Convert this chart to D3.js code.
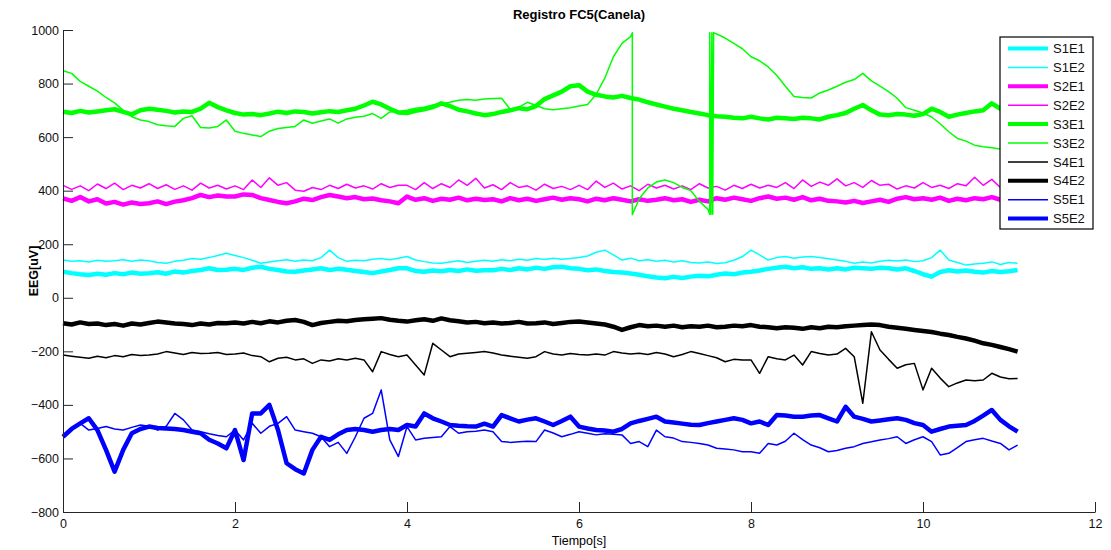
<!DOCTYPE html>
<html>
<head>
<meta charset="utf-8">
<script src="https://cdn.jsdelivr.net/npm/d3@7"></script>
<style>
  body { margin: 0; background: #fff; }
  svg { display: block; font-family: "Liberation Sans", Arial, sans-serif; }
</style>
</head>
<body>
<svg width="1111" height="550"></svg>
<script>
// sample grid (s) shared by every series except S3E2
const sampleStep = 0.1;

const s1e1 = [97,92,88,85,90,86,92,88,94,90, 92,95,90,98,94,100,104,110,104,105, 108,104,112,116,108,104,98,97,102,106,
  110,104,108,105,100,96,92,98,104,110, 110,100,97,102,99,104,100,106,101,103, 103,108,104,110,106,112,108,114,116,110,
  108,103,106,100,96,94,91,86,80,76, 73,78,74,79,82,80,86,91,88,94, 97,102,108,112,116,110,114,108,110,106,
  110,106,112,110,108,112,110,106,110,100, 88,79,96,103,98,102,97,94,100,96,99,104];
const s1e2 = [141,136,138,134,140,136,138,142,136,141, 138,132,129,136,140,147,144,150,158,166, 158,150,140,129,134,138,142,136,141,138,
  150,178,150,136,140,138,144,147,142,148, 154,141,135,130,129,134,138,132,136,140, 136,142,138,144,140,147,143,148,144,147,
  150,156,170,178,160,141,148,138,142,136, 140,134,138,132,130,134,128,131,140,154, 178,160,141,150,154,148,152,154,150,146,
  141,136,129,134,130,136,140,137,141,135, 138,150,178,141,132,122,126,129,134,124,132,129];
const s2e1 = [371,362,376,360,368,352,358,348,356,350, 353,360,350,359,364,372,384,376,382,378, 378,386,384,372,365,358,353,360,370,365,
  376,384,378,372,376,368,371,364,360,353, 378,366,372,362,370,366,374,364,370,365, 368,360,372,364,370,362,368,374,366,372,
  368,360,370,364,372,366,360,368,362,366, 372,364,368,358,366,360,372,366,374,368, 362,372,378,370,374,366,376,364,370,362,
  360,356,362,354,360,366,358,370,376,368, 372,366,374,362,370,364,372,368,376,366,372,370];
const s2e2 = [420,405,418,400,425,408,428,404,420,410, 426,408,422,405,418,402,428,410,420,406, 418,404,440,412,448,420,430,402,398,412,
  404,420,408,424,410,418,406,426,412,420, 420,404,430,408,426,412,440,420,446,410, 422,404,430,412,418,402,424,408,416,404,
  420,404,436,412,428,406,418,400,424,410, 420,406,418,404,426,410,416,402,420,408, 424,410,420,412,430,408,440,416,432,420,
  444,418,430,412,438,420,424,406,418,410, 430,412,420,408,426,418,450,420,442,412,430,416];
const s3e1 = [695,690,698,692,696,700,704,694,685,700, 706,702,698,692,696,694,706,728,712,700, 690,684,686,682,688,695,690,696,694,688,
  693,697,694,700,706,718,732,722,706,692, 690,698,704,712,726,716,702,696,688,682, 686,694,700,708,704,716,742,756,770,790,
  794,770,758,752,748,754,746,740,730,722, 714,706,700,694,688,682,678,676,672,670, 676,670,666,672,670,668,672,670,666,676,
  682,690,706,720,700,684,682,686,684,680, 686,706,694,676,684,690,696,700,726,706,698,692];
// S3E2 has its own times because of the vertical jumps
const s3e2Time = [0,0.1,0.2,0.3,0.4,0.5,0.6,0.7,0.8,0.9, 1,1.1,1.2,1.3,1.4,1.5,1.6,1.7,1.8,1.9, 2,2.1,2.2,2.3,2.4,2.5,2.6,2.7,2.8,2.9,
  3,3.1,3.2,3.3,3.4,3.5,3.6,3.7,3.8,3.9, 4,4.1,4.2,4.3,4.4,4.5,4.6,4.7,4.8,4.9, 5,5.1,5.2,5.3,5.4,5.5,5.6,5.7,5.8,5.9,
  6,6.1,6.2,6.3,6.4,6.5,6.6, 6.62,6.62, 6.7,6.8,6.9,7,7.1,7.2,7.3,7.4,7.5, 7.52,7.52,7.535,7.545,7.555,7.565,
  7.6,7.7,7.8,7.9,8,8.1,8.2,8.3,8.4,8.5, 8.6,8.7,8.8,8.9,9,9.1,9.2,9.3,9.4,9.5, 9.6,9.7,9.8,9.9,10,10.1,10.2,10.3,10.4,10.5,
  10.6,10.7,10.8,10.9,11,11.1];
const s3e2 = [848,838,808,790,772,748,728,700,676,664, 658,646,642,640,670,680,636,634,640,664, 622,614,608,602,622,632,636,640,664,652,
  660,668,652,668,674,678,688,670,694,696, 700,708,712,720,724,730,738,740,738,742, 744,745,704,712,730,718,706,702,706,710,
  716,722,760,820,900,950,975, 990,310, 370,410,432,440,430,412,400,360,330, 312,990,312,990,312,990,
  985,970,950,930,900,885,862,830,790,752, 748,746,765,776,790,805,815,838,810,790, 770,745,710,700,690,675,650,620,595,585,
  570,564,560,556,562,560];
const s4e1 = [-214,-218,-222,-226,-218,-224,-216,-220,-212,-216, -214,-210,-201,-206,-212,-204,-208,-207,-204,-212,
  -210,-206,-216,-220,-239,-226,-222,-232,-228,-245, -232,-236,-228,-232,-226,-232,-276,-201,-212,-220,
  -214,-251,-288,-170,-195,-220,-210,-207,-204,-201, -206,-214,-218,-222,-226,-220,-201,-210,-214,-208,
  -212,-214,-210,-214,-201,-206,-210,-207,-212,-204, -210,-220,-212,-201,-208,-216,-224,-239,-230,-232,
  -232,-282,-220,-228,-232,-214,-251,-201,-208,-214, -210,-189,-220,-394,-127,-195,-230,-263,-250,-245,
  -344,-263,-300,-332,-318,-307,-310,-307,-282,-296,-302,-301];
const s4e2 = [-95,-100,-92,-98,-96,-102,-98,-104,-96,-100, -94,-89,-92,-96,-98,-102,-96,-100,-94,-95,
  -92,-96,-90,-95,-88,-92,-86,-83,-90,-102, -94,-90,-86,-88,-83,-80,-78,-76,-82,-86,
  -89,-84,-80,-86,-77,-84,-88,-92,-90,-95, -92,-96,-94,-90,-96,-95,-92,-98,-94,-90,
  -89,-92,-96,-100,-108,-120,-110,-102,-106,-104, -108,-104,-110,-106,-108,-104,-110,-108,-104,-106,
  -102,-108,-110,-114,-110,-112,-116,-110,-114,-108, -110,-106,-104,-102,-100,-102,-108,-112,-116,-120,
  -124,-128,-134,-139,-146,-152,-160,-170,-176,-184,-192,-201];
const s5e1 = [-519,-490,-469,-494,-488,-481,-490,-494,-484,-475, -480,-494,-480,-432,-456,-494,-500,-508,-514,-519,
  -494,-531,-469,-506,-480,-469,-444,-494,-500,-506, -519,-556,-540,-581,-519,-450,-432,-344,-531,-593,
  -481,-531,-525,-522,-519,-481,-506,-500,-498,-494, -500,-537,-540,-538,-536,-537,-494,-505,-519,-510,
  -500,-506,-512,-508,-510,-512,-544,-537,-556,-494, -519,-524,-537,-540,-544,-550,-562,-565,-568,-575,
  -575,-581,-544,-550,-536,-506,-530,-550,-560,-575, -570,-562,-556,-544,-538,-531,-526,-519,-544,-530,
  -519,-537,-587,-581,-560,-537,-530,-525,-535,-544,-568,-550];
const s5e2 = [-519,-490,-469,-450,-494,-568,-649,-568,-506,-490, -481,-486,-488,-490,-494,-500,-506,-530,-544,-562,
  -494,-606,-432,-432,-400,-494,-618,-640,-656,-568, -519,-531,-510,-494,-490,-494,-500,-494,-490,-494,
  -475,-481,-432,-450,-462,-475,-478,-480,-481,-470, -481,-438,-450,-462,-455,-450,-462,-475,-460,-444,
  -481,-488,-494,-496,-500,-490,-469,-460,-452,-444, -462,-466,-470,-474,-475,-468,-462,-456,-450,-456,
  -469,-462,-475,-438,-440,-444,-444,-440,-438,-450, -462,-407,-444,-452,-462,-458,-454,-450,-456,-468,
  -475,-500,-490,-481,-478,-475,-460,-440,-419,-456,-480,-500];

const xTicks = [0, 2, 4, 6, 8, 10, 12];
const yTicks = [-800, -600, -400, -200, 0, 200, 400, 600, 800, 1000];

const series = [
  {name: 'S1E1', values: s1e1, color: '#00ffff', thick: true},
  {name: 'S1E2', values: s1e2, color: '#00ffff', thick: false},
  {name: 'S2E1', values: s2e1, color: '#ff00ff', thick: true},
  {name: 'S2E2', values: s2e2, color: '#ff00ff', thick: false},
  {name: 'S3E1', values: s3e1, color: '#00ff00', thick: true},
  {name: 'S3E2', values: s3e2, color: '#00ff00', thick: false, time: s3e2Time},
  {name: 'S4E1', values: s4e1, color: '#000000', thick: false},
  {name: 'S4E2', values: s4e2, color: '#000000', thick: true},
  {name: 'S5E1', values: s5e1, color: '#0000ff', thick: false},
  {name: 'S5E2', values: s5e2, color: '#0000ff', thick: true}
];

const svg = d3.select('svg');
const plot = {left: 63, right: 1095, top: 30, bottom: 512};

const x = d3.scaleLinear().domain([0, 12]).range([plot.left, plot.right]);
const y = d3.scaleLinear().domain([-800, 1000]).range([plot.bottom, plot.top]);

// data lines
const lines_layer = svg.append('g');
series.forEach(function(s) {
  const line = d3.line()
    .x(function(d, i) { return x(s.time ? s.time[i] : i * sampleStep); })
    .y(function(d) { return y(d); });
  lines_layer.append('path')
    .datum(s.values)
    .attr('fill', 'none')
    .attr('stroke', s.color)
    .attr('stroke-width', s.thick ? 4.5 : 1.5)
    .attr('stroke-linejoin', 'round')
    .attr('d', line);
});

// axes, MATLAB style: ticks pointing inward, no box
const xAxis = svg.append('g')
  .attr('transform', 'translate(0,' + plot.bottom + ')')
  .call(d3.axisBottom(x).tickValues(xTicks).tickFormat(d3.format('d'))
    .tickSizeInner(-10).tickSizeOuter(0).tickPadding(7));
const yAxis = svg.append('g')
  .attr('transform', 'translate(' + plot.left + ',0)')
  .call(d3.axisLeft(y).tickValues(yTicks).tickFormat(d3.format('d'))
    .tickSizeInner(-10).tickSizeOuter(0).tickPadding(4));
[xAxis, yAxis].forEach(function(a) {
  a.select('.domain').attr('stroke', '#262626');
  a.selectAll('.tick line').attr('stroke', '#262626');
  a.selectAll('.tick text')
    .attr('fill', '#111')
    .style('font-family', '"Liberation Sans", Arial, sans-serif')
    .style('font-size', '12.5px');
});

svg.append('text')
  .attr('x', (plot.left + plot.right) / 2)
  .attr('y', 19)
  .attr('text-anchor', 'middle')
  .style('font-size', '13px')
  .style('font-weight', 'bold')
  .text('Registro FC5(Canela)');

svg.append('text')
  .attr('x', (plot.left + plot.right) / 2)
  .attr('y', 545)
  .attr('text-anchor', 'middle')
  .style('font-size', '12.5px')
  .text('Tiempo[s]');

svg.append('text')
  .attr('transform', 'translate(38,' + (plot.top + plot.bottom) / 2 + ') rotate(-90)')
  .attr('text-anchor', 'middle')
  .style('font-size', '12.5px')
  .style('font-weight', 'bold')
  .text('EEG[uV]');

// legend
const legend = svg.append('g').attr('transform', 'translate(1000,37)');
legend.append('rect')
  .attr('width', 93)
  .attr('height', 192)
  .attr('fill', '#fff')
  .attr('stroke', '#000')
  .attr('stroke-width', 1.2);
series.forEach(function(s, i) {
  const ly = 11.5 + i * 18.9;
  legend.append('line')
    .attr('x1', 8).attr('x2', 48)
    .attr('y1', ly).attr('y2', ly)
    .attr('stroke', s.color)
    .attr('stroke-width', s.thick ? 4 : 1.5);
  legend.append('text')
    .attr('x', 53)
    .attr('y', ly)
    .attr('dy', '0.36em')
    .style('font-size', '13px')
    .attr('fill', '#111')
    .text(s.name);
});
</script>
</body>
</html>
